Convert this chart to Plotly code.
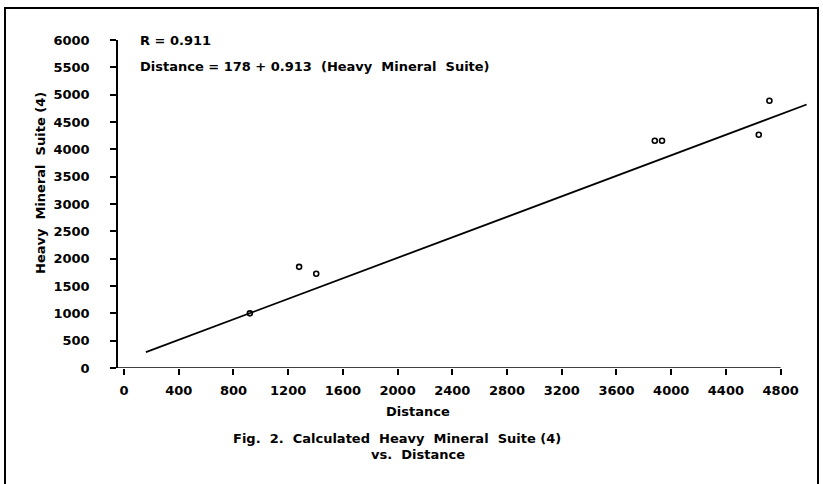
import plotly.graph_objects as go

# Data
distance = [920, 1280, 1405, 3880, 3933, 4640, 4718]
heavy_mineral = [1000, 1850, 1725, 4158, 4158, 4268, 4890]

# Regression line endpoints as drawn
fit_x = [160, 4990]
fit_y = [290, 4820]

x_ticks = [0, 400, 800, 1200, 1600, 2000, 2400, 2800, 3200, 3600, 4000, 4400, 4800]
y_ticks = [0, 500, 1000, 1500, 2000, 2500, 3000, 3500, 4000, 4500, 5000, 5500, 6000]

W, H = 823, 484
L, R, T, B = 118, 15, 40, 116
pw, ph = W - L - R, H - T - B

def px(x):
    return (x - L) / pw

def py(y):
    return (H - B - y) / ph

FONT = "DejaVu Sans"
fnt = dict(family=FONT, size=13, color="black", weight="bold")

fig = go.Figure()
fig.add_trace(go.Scatter(x=fit_x, y=fit_y, mode="lines",
                         line=dict(color="black", width=1.8), showlegend=False))
fig.add_trace(go.Scatter(x=distance, y=heavy_mineral, mode="markers",
                         marker=dict(symbol="circle-open", size=5, color="black",
                                     line=dict(width=1.6)),
                         showlegend=False))

fig.update_layout(
    width=W, height=H,
    margin=dict(l=L, r=R, t=T, b=B, pad=0),
    paper_bgcolor="white", plot_bgcolor="white",
    font=fnt,
    xaxis=dict(range=[-44, 5000], tickvals=x_ticks, ticktext=[str(v) for v in x_ticks],
               showgrid=False, zeroline=False, showline=False,
               ticks="outside", ticklen=6, tickwidth=1.5, tickcolor="black",
               tickfont=fnt, ticklabelstandoff=4),
    yaxis=dict(range=[0, 6000], tickvals=y_ticks, ticktext=[str(v) for v in y_ticks],
               showgrid=False, zeroline=False, showline=True, linecolor="black",
               linewidth=1.5, ticks="outside", ticklen=6, tickwidth=1.5,
               tickcolor="black", tickfont=fnt, ticklabelstandoff=18),
)

# x axis line (ends at 4800 as in the reference)
fig.add_shape(type="line", xref="paper", yref="y", x0=px(112), x1=0, y0=0, y1=0,
              line=dict(color="black", width=1.5))
fig.add_shape(type="line", xref="x", yref="y", x0=-44, x1=4800, y0=0, y1=0,
              line=dict(color="black", width=1.5))

# outer frame
fig.add_shape(type="rect", xref="paper", yref="paper",
              x0=px(5), x1=px(818), y0=py(495), y1=py(8),
              line=dict(color="black", width=2))

ann = [
    dict(text="R = 0.911", x=px(138), y=py(40), xanchor="left"),
    dict(text="Distance = 178 + 0.913  (Heavy  Mineral  Suite)", x=px(138), y=py(67),
         xanchor="left"),
    dict(text="Distance", x=px(418), y=py(411), xanchor="center"),
    dict(text="Fig.  2.  Calculated  Heavy  Mineral  Suite (4)", x=px(397), y=py(438),
         xanchor="center"),
    dict(text="vs.  Distance", x=px(418), y=py(455), xanchor="center"),
]
for a in ann:
    fig.add_annotation(xref="paper", yref="paper", yanchor="middle", showarrow=False,
                       font=fnt, **a)
fig.add_annotation(xref="paper", yref="paper", x=px(40), y=py(183), text="Heavy  Mineral  Suite (4)",
                   textangle=-90, showarrow=False, font=fnt, xanchor="center", yanchor="middle")

fig.write_html("out.html", config={"displayModeBar": False},
               post_script="document.body.style.margin='0';document.body.style.overflow='hidden';")
